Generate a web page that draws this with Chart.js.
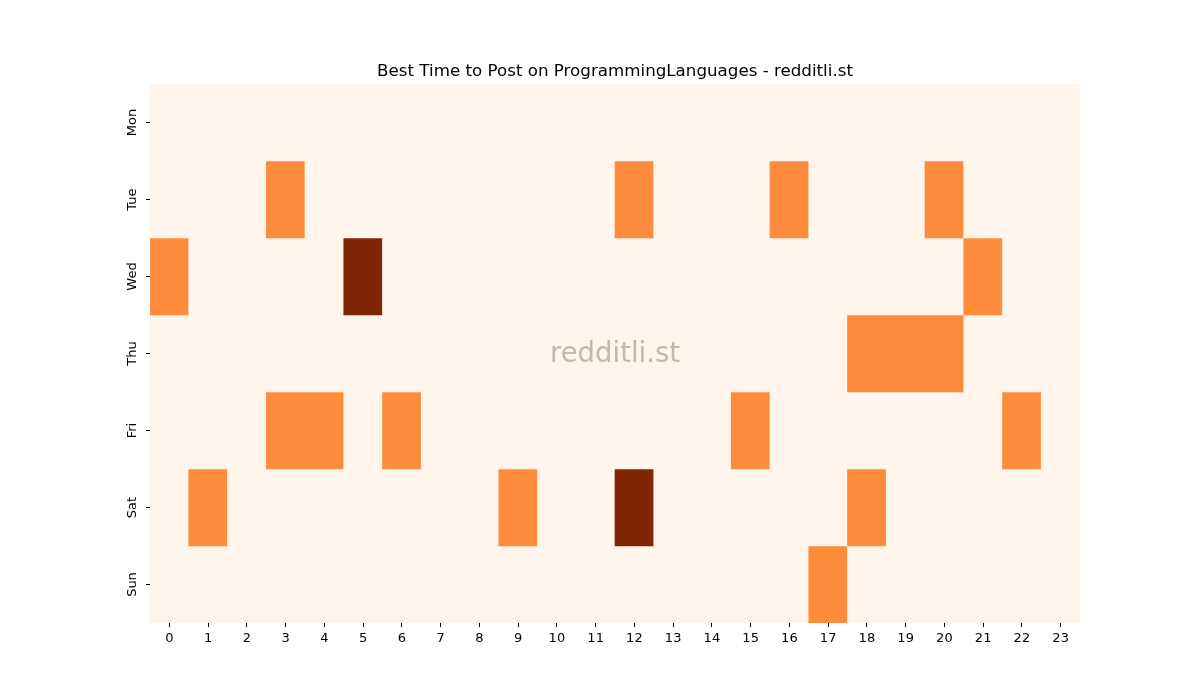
<!DOCTYPE html>
<html>
<head>
<meta charset="utf-8">
<script src="https://cdn.jsdelivr.net/npm/chart.js@4.4.1/dist/chart.umd.min.js"></script>
<style>
  html, body { margin: 0; padding: 0; background: #fff; }
  canvas { display: block; }
</style>
</head>
<body>
<canvas id="heatmap" width="1200" height="700"></canvas>
<script>
// Datos del heatmap
const hours = ['0','1','2','3','4','5','6','7','8','9','10','11','12','13','14','15','16','17','18','19','20','21','22','23'];
const days = ['Mon', 'Tue', 'Wed', 'Thu', 'Fri', 'Sat', 'Sun'];
// una fila por día, 24 horas
const mon = [0,0,0,0,0,0,0,0,0,0,0,0,0,0,0,0,0,0,0,0,0,0,0,0];
const tue = [0,0,0,1,0,0,0,0,0,0,0,0,1,0,0,0,1,0,0,0,1,0,0,0];
const wed = [1,0,0,0,0,2,0,0,0,0,0,0,0,0,0,0,0,0,0,0,0,1,0,0];
const thu = [0,0,0,0,0,0,0,0,0,0,0,0,0,0,0,0,0,0,1,1,1,0,0,0];
const fri = [0,0,0,1,1,0,1,0,0,0,0,0,0,0,0,1,0,0,0,0,0,0,1,0];
const sat = [0,1,0,0,0,0,0,0,0,1,0,0,2,0,0,0,0,0,1,0,0,0,0,0];
const sun = [0,0,0,0,0,0,0,0,0,0,0,0,0,0,0,0,0,1,0,0,0,0,0,0];
const rows = [mon, tue, wed, thu, fri, sat, sun];

const palette = ['#fff5eb', '#fd8d3c', '#7f2704'];

const datasets = rows.map(function (row, d) {
    return {
        label: days[d],
        data: row.map(function () { return [d, d + 1]; }),
        backgroundColor: row.map(function (v) { return palette[v]; }),
        borderWidth: 0,
        borderSkipped: false,
        barPercentage: 1,
        categoryPercentage: 1,
        grouped: false
    };
});

// Marca de agua
const watermark = {
    id: 'watermark',
    afterDatasetsDraw(chart) {
        const a = chart.chartArea;
        const c = chart.ctx;
        c.save();
        c.font = '27.5px "DejaVu Sans"';
        c.fillStyle = '#c2b8b0';
        c.textAlign = 'center';
        c.textBaseline = 'middle';
        c.fillText('redditli.st', (a.left + a.right) / 2, (a.top + a.bottom) / 2 + 1);
        c.restore();
    }
};

const tickFont = { family: 'DejaVu Sans', size: 13 };

new Chart(document.getElementById('heatmap').getContext('2d'), {
    type: 'bar',
    data: { labels: hours, datasets: datasets },
    plugins: [watermark],
    options: {
        responsive: false,
        animation: false,
        layout: { padding: { left: 105, right: 75, top: 62, bottom: 45 } },
        plugins: {
            legend: { display: false },
            tooltip: { enabled: false },
            title: {
                display: true,
                text: 'Best Time to Post on ProgrammingLanguages - redditli.st',
                color: '#000',
                font: { family: 'DejaVu Sans', size: 16.7, weight: 'normal' },
                padding: { top: 0, bottom: 2 }
            }
        },
        scales: {
            x: {
                offset: true,
                grid: { display: true, drawOnChartArea: false, drawTicks: true, tickLength: 4, color: '#000', offset: false },
                border: { display: false },
                ticks: { color: '#000', font: tickFont, padding: 4, maxRotation: 0, autoSkip: false },
                afterFit: function (s) { s.height = 32; }
            },
            y: {
                min: 0,
                max: 7,
                reverse: true,
                grid: { display: true, drawOnChartArea: false, drawTicks: true, tickLength: 4, color: '#000' },
                border: { display: false },
                afterBuildTicks: function (s) {
                    s.ticks = days.map(function (_, i) { return { value: i + 0.5 }; });
                },
                ticks: {
                    color: '#000',
                    font: tickFont,
                    minRotation: 90,
                    maxRotation: 90,
                    crossAlign: 'center',
                    padding: -1,
                    callback: function (v) { return days[Math.floor(v)]; }
                },
                afterFit: function (s) { s.width = 45; }
            },
            // eje vacío a la derecha para centrar el título sobre el área
            yRight: {
                position: 'right',
                display: true,
                grid: { display: false },
                border: { display: false },
                ticks: { display: false },
                afterFit: function (s) { s.width = 45; }
            }
        }
    }
});
</script>
</body>
</html>
